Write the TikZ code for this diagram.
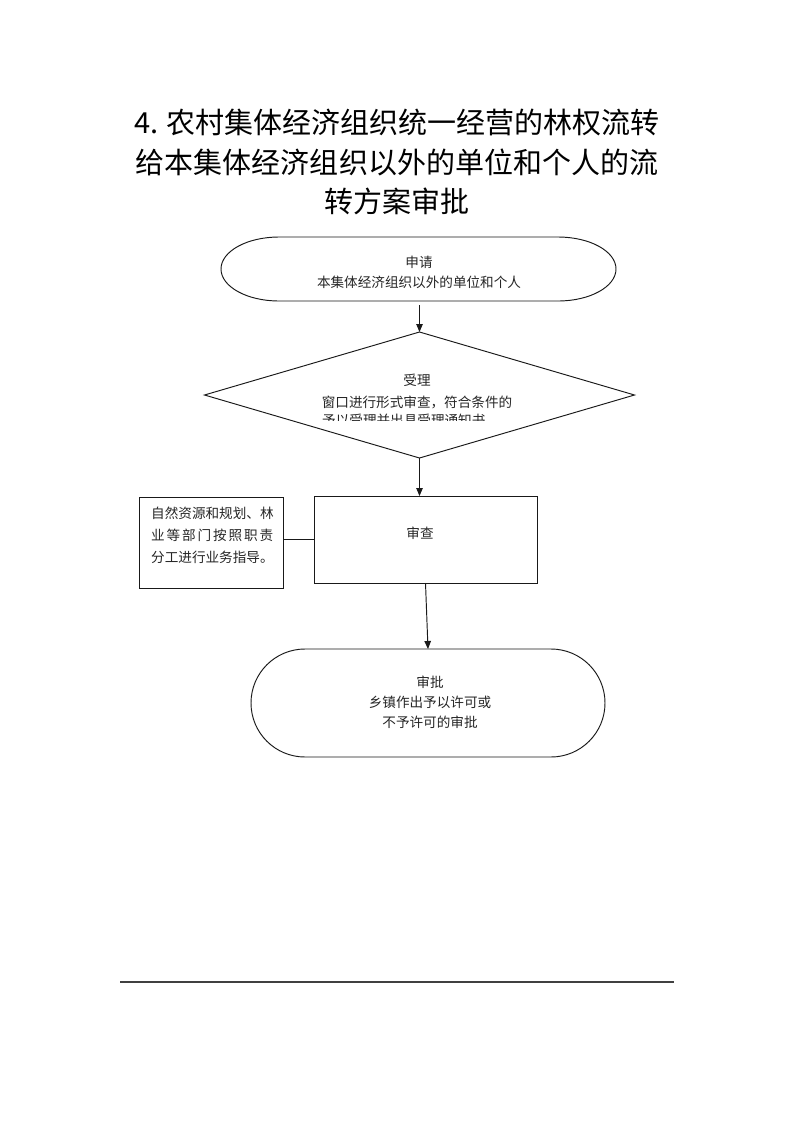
\documentclass[tikz,border=0pt]{standalone}
\usepackage{fontspec}
\newfontfamily\cjk{Noto Sans CJK SC}
\usetikzlibrary{shapes.geometric,arrows.meta,calc}
\begin{document}
\begin{tikzpicture}[x=1bp,y=-1bp,
  line/.style={draw=black!90,line width=0.95bp},
  arr/.style={line,-{Triangle[length=8bp,width=6.5bp]}},
  title/.style={font=\cjk\fontsize{29bp}{40bp}\selectfont,inner sep=0,text=black},
  body/.style={font=\cjk\fontsize{13.6bp}{20bp}\selectfont,inner sep=0,text=black!85},
  frame/.style={draw=none,inner sep=0,outer sep=0,rectangle}]
\path[use as bounding box,fill=white] (0,0) rectangle (793,1122);

% title
\node[title] (t1) at (397,122) {4. 农村集体经济组织统一经营的林权流转};
\node[title] (t2) at (397,162) {给本集体经济组织以外的单位和个人的流};
\node[title] (t3) at (397,201) {转方案审批};

% start stadium
\node[frame,minimum width=395bp,minimum height=64bp] (s1) at (418.5,269) {};
\draw[line] ([xshift=58bp]s1.north west) -- ([xshift=-58bp]s1.north east)
  arc[start angle=90,end angle=-90,x radius=58bp,y radius=32bp]
  -- ([xshift=58bp]s1.south west)
  arc[start angle=270,end angle=90,x radius=58bp,y radius=32bp] -- cycle;
\node[body,align=center] (s1t) at (419,272) {申请\\本集体经济组织以外的单位和个人};

% diamond
\node[diamond,line,minimum width=430bp,minimum height=126bp,inner sep=0,outer sep=0] (d) at (419.5,395) {};
\node[body,align=center,font=\cjk\fontsize{13.6bp}{22bp}\selectfont] (dt) at (417,391) {受理\\窗口进行形式审查，符合条件的};
\begin{scope}
  \clip (300,405) rectangle (540,420.5);
  \node[body,anchor=west] (dt3) at (322,420) {予以受理并出具受理通知书};
\end{scope}

% review box
\node[rectangle,line,minimum width=223bp,minimum height=87bp,inner sep=0,outer sep=0] (b) at (425.5,539.5) {};
\node[body] (bt) at (420,533) {审查};

% side box
\node[rectangle,line,minimum width=144bp,minimum height=91bp,inner sep=0,outer sep=0] (sb) at (211,542.5) {};
\node[body,anchor=west,align=left,font=\cjk\fontsize{13.6bp}{22bp}\selectfont] (sbt) at (151,535)
  {自然资源和规划、林\\\makebox[122bp][l]{业\hfill 等\hfill 部\hfill 门\hfill 按\hfill 照\hfill 职\hfill 责}\\分工进行业务指导。};

% end stadium
\node[frame,minimum width=354bp,minimum height=108bp] (s2) at (428,703) {};
\draw[line] ([xshift=54bp]s2.north west) -- ([xshift=-54bp]s2.north east)
  arc[start angle=90,end angle=-90,x radius=54bp,y radius=54bp]
  -- ([xshift=54bp]s2.south west)
  arc[start angle=270,end angle=90,x radius=54bp,y radius=54bp] -- cycle;
\node[body,align=center] (s2t) at (430,702) {审批\\乡镇作出予以许可或\\不予许可的审批};

% connectors
\coordinate (a1) at ([yshift=-4bp]s1.south);
\draw[arr] (a1 -| d.north) -- (d.north);
\draw[arr] (d.south) -- (b.north -| d.south);
\draw[line] (b.west) -- (b.west -| sb.east);
\draw[arr] (b.south) -- (s2.north);

% footer rule
\coordinate (fl) at (120,982);
\coordinate (fr) at (674,982);
\draw[draw=black!75,line width=1.6bp] (fl) -- (fr);
\end{tikzpicture}
\end{document}
